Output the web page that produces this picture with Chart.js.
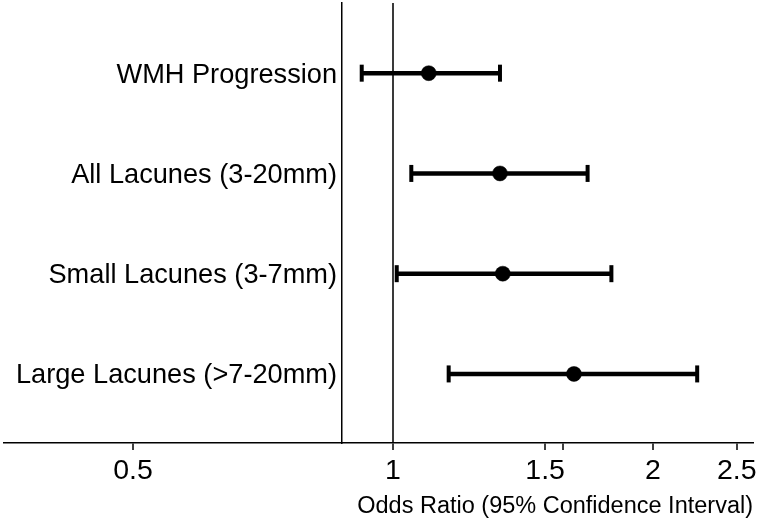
<!DOCTYPE html>
<html>
<head>
<meta charset="utf-8">
<title>Odds ratios</title>
<script src="https://cdn.jsdelivr.net/npm/chart.js@4/dist/chart.umd.min.js"></script>
<style>
  html, body { margin: 0; padding: 0; background: #fff; }
  #wrap { width: 762px; height: 523px; position: relative; }
</style>
</head>
<body>
<div id="wrap"><canvas id="forest"></canvas></div>
<script>
// outcomes, top to bottom
const categories = [
  "WMH Progression",
  "All Lacunes (3-20mm)",
  "Small Lacunes (3-7mm)",
  "Large Lacunes (>7-20mm)",
];
const oddsRatio = [1.10, 1.33, 1.34, 1.62];
const ciLower = [0.92, 1.05, 1.01, 1.16];
const ciUpper = [1.33, 1.68, 1.79, 2.25];

// x axis (log scale)
const xTickValues = [0.5, 1, 1.5, 1.575, 2, 2.5];
const xTickLabels = ["0.5", "1", "1.5", "", "2", "2.5"];
const refValue = 1;

Chart.defaults.font.family = "'Liberation Sans', Arial, Helvetica, sans-serif";
Chart.defaults.color = "#000";

// the y axis sits inside the plot, so its labels get no padding from the
// library; push them a little away from the axis line
const nudgeYLabels = {
  id: "nudgeYLabels",
  beforeDraw(chart) {
    const items = chart.scales.y.getLabelItems(chart.chartArea);
    if (items._nudged) return;
    items.forEach((item) => {
      const t = item.options.translation;
      item.options.translation = [t[0] - 5, t[1] + 2];
    });
    items._nudged = true;
  },
};

const pointDataset = {
  label: "Odds ratio",
  data: oddsRatio.map((v, i) => ({ x: v, y: i })),
  backgroundColor: "#000",
  borderColor: "#000",
  pointRadius: 7.5,
  pointHoverRadius: 7.5,
  pointBorderWidth: 0.5,
  order: 0,
};

const ciDatasets = categories.map((name, i) => ({
  label: name + " CI",
  data: [
    { x: ciLower[i], y: i },
    { x: ciUpper[i], y: i },
  ],
  showLine: true,
  borderColor: "#000",
  borderWidth: 4.5,
  pointStyle: "line",
  pointRotation: 90,
  pointRadius: 8.5,
  pointHoverRadius: 8.5,
  pointBorderWidth: 4,
  pointBorderColor: "#000",
  order: 1,
}));

new Chart(document.getElementById("forest"), {
  type: "scatter",
  data: { datasets: [pointDataset, ...ciDatasets] },
  plugins: [nudgeYLabels],
  options: {
    responsive: true,
    maintainAspectRatio: false,
    animation: false,
    events: [],
    layout: {
      autoPadding: false,
      padding: { left: 4, right: 9, top: 3, bottom: 0 },
    },
    plugins: {
      legend: { display: false },
      tooltip: { enabled: false },
    },
    scales: {
      x: {
        type: "logarithmic",
        position: "bottom",
        min: 0.3545,
        max: 2.611,
        afterBuildTicks: (scale) => {
          scale.ticks = xTickValues.map((v) => ({ value: v }));
        },
        afterFit: (scale) => {
          scale.height = 80;
        },
        ticks: {
          autoSkip: false,
          maxRotation: 0,
          padding: 4,
          font: { size: 28.5 },
          callback: (value, index) => xTickLabels[index],
        },
        grid: {
          color: (ctx) =>
            ctx.tick && ctx.tick.value === refValue ? "#3a3a3a" : "rgba(0,0,0,0)",
          lineWidth: 2,
          tickColor: "#000",
          tickWidth: 1.5,
          tickLength: 7,
        },
        border: { color: "#000", width: 1.5 },
        title: {
          display: true,
          text: "Odds Ratio (95% Confidence Interval)",
          align: "end",
          font: { size: 23.5 },
          padding: { top: 0, bottom: 2 },
        },
      },
      y: {
        type: "linear",
        position: { x: 0.873 },
        reverse: true,
        min: -0.70,
        max: 3.689,
        afterBuildTicks: (scale) => {
          scale.ticks = categories.map((c, i) => ({ value: i }));
        },
        afterFit: (scale) => {
          // keep the label overflow from pushing the plot down
          scale.paddingTop = 0;
          scale.paddingBottom = 0;
        },
        ticks: {
          autoSkip: false,
          padding: 0,
          font: { size: 27.2 },
          callback: (value) => categories[value],
        },
        grid: {
          color: "rgba(0,0,0,0)",
          drawTicks: false,
        },
        border: { color: "#000", width: 1.5 },
      },
    },
  },
});
</script>
</body>
</html>
